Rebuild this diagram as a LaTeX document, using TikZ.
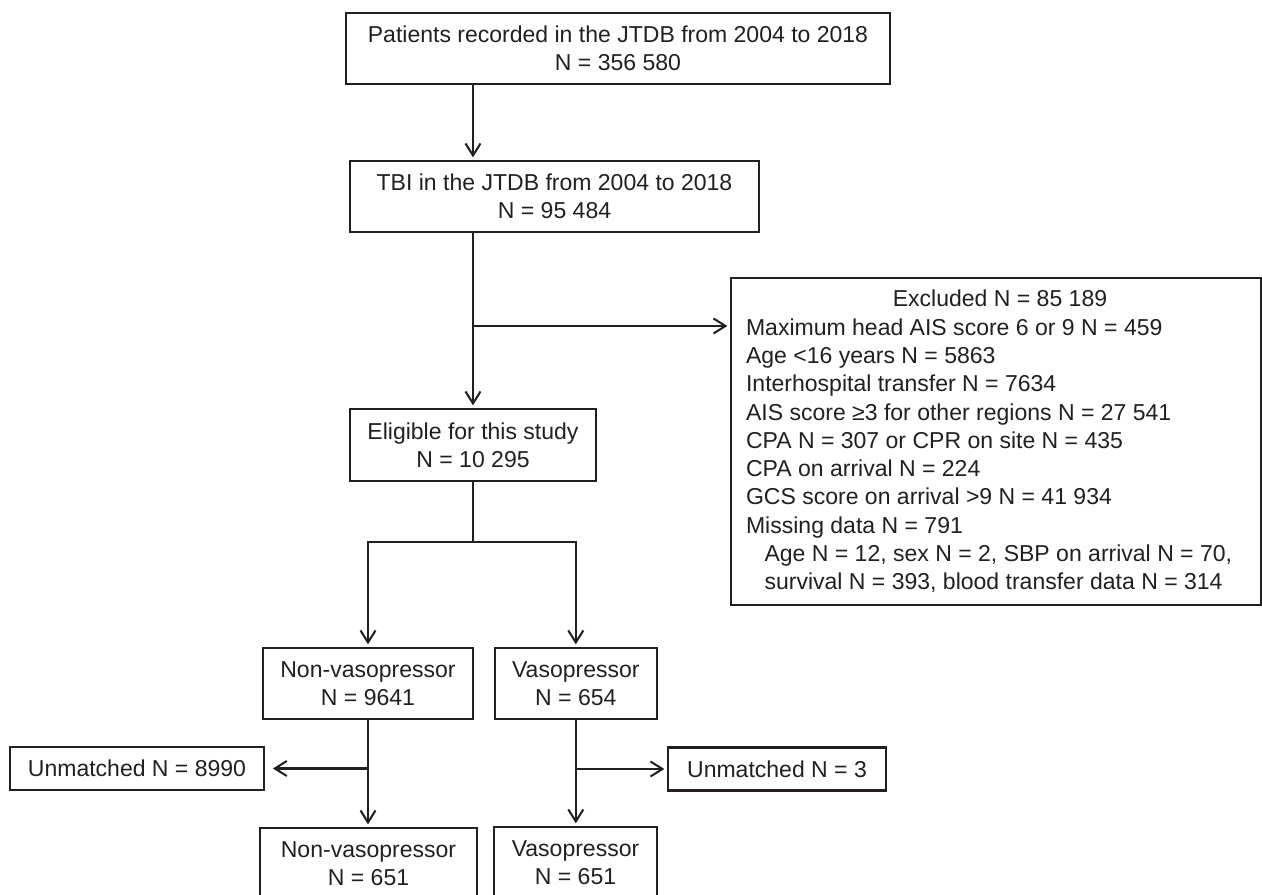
\documentclass[tikz,border=0pt]{standalone}
\usepackage{fontspec}
\setmainfont{Liberation Sans}
\usepackage{tikz}
\usetikzlibrary{arrows.meta}
\definecolor{ink}{HTML}{231F20}
\tikzset{
  box/.style={rectangle, draw=ink, line width=1.15pt, align=center, text=ink, font=\fontsize{13.1}{16.1}\selectfont, minimum height=1.42cm, inner sep=0pt},
  smallbox/.style={box, minimum height=0.86cm},
  line/.style={draw=ink, line width=1.15pt, -{Straight Barb[length=2.4mm,width=3mm]}, shorten >=1.5pt},
  plain/.style={draw=ink, line width=1.15pt}
}

\begin{document}
\begin{tikzpicture}[x=0.02cm, y=-0.02cm]
  \clip (0,0) rectangle (1262,895);
  \node[box, minimum width=10.88cm] (patients) at (618,48.5) {Patients recorded in the JTDB from 2004 to 2018\\N = 356 580};
  \node[box, minimum width=8.18cm] (tbi) at (554.5,196.5) {TBI in the JTDB from 2004 to 2018\\N = 95 484};
  \node[box, minimum width=4.92cm, minimum height=1.44cm] (elig) at (473,445) {Eligible for this study\\N = 10 295};
  \node[box, align=left, inner xsep=0.3cm, minimum width=10.6cm, minimum height=6.54cm] (excl) at (996,441.5) {%
    \makebox[10cm]{\hspace{0.16cm}Excluded N = 85 189}\\
    Maximum head AIS score 6 or 9 N = 459\\
    Age <16 years N = 5863\\
    Interhospital transfer N = 7634\\
    AIS score ≥3 for other regions N = 27 541\\
    CPA N = 307 or CPR on site N = 435\\
    CPA on arrival N = 224\\
    GCS score on arrival >9 N = 41 934\\
    Missing data N = 791\\
    \hspace*{0.37cm}Age N = 12, sex N = 2, SBP on arrival N = 70,\\
    \hspace*{0.37cm}survival N = 393, blood transfer data N = 314};
  \node[box, minimum width=4.2cm] (nonvaso) at (368,683.5) {Non-vasopressor\\N = 9641};
  \node[box, minimum width=3.25cm] (vaso) at (575.8,683.5) {Vasopressor\\N = 654};
  \node[smallbox, minimum width=5.08cm] (unmA) at (137,768.5) {Unmatched N = 8990};
  \node[smallbox, minimum width=4.36cm] (unmB) at (777,769) {Unmatched N = 3};
  \node[box, minimum width=4.34cm] (nonvasoM) at (368.5,863.5) {Non-vasopressor\\N = 651};
  \node[box, minimum width=3.26cm] (vasoM) at (575.5,862.5) {Vasopressor\\N = 651};
  \coordinate (exclJoin) at (473,326);
  \coordinate (split) at (473,542);
  \draw[line] (elig.north |- patients.south) -- (elig.north |- tbi.north);
  \draw[line] (elig.north |- tbi.south) -- (elig.north);
  \draw[line] (exclJoin) -- (exclJoin -| excl.west);
  \draw[plain] (elig.south) -- (split);
  \draw[line] (split) -| (nonvaso.north);
  \draw[line] (split) -| (vaso.north);
  \draw[line] (nonvaso.south) -- (nonvaso.south |- nonvasoM.north);
  \draw[line, shorten >=4.5pt] (nonvaso.south |- unmA.east) -- (unmA.east);
  \draw[line] (vaso.south) -- (vaso.south |- vasoM.north);
  \draw[line] (vaso.south |- unmB.west) -- (unmB.west);
\end{tikzpicture}
\end{document}
